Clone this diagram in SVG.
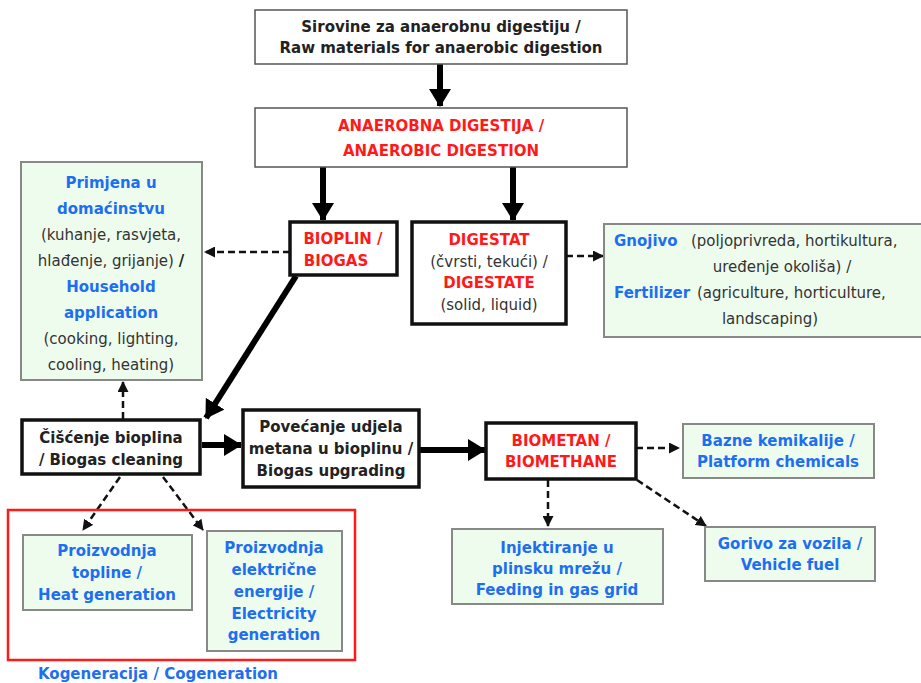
<svg xmlns="http://www.w3.org/2000/svg" width="921" height="683" viewBox="0 0 921 683">
<style>
text{font-family:"DejaVu Sans",Verdana,sans-serif;font-size:15px;text-anchor:middle}
.red{fill:#ff1a1a;font-weight:bold}
.blue{fill:#1e6ff0;font-weight:bold}
.blk{fill:#222;font-weight:bold}
.gr{fill:#333}
.thin{fill:#fff;stroke:#555;stroke-width:1.5}
.thick{fill:#fff;stroke:#111;stroke-width:3.5}
.green{fill:#eefcee;stroke:#888;stroke-width:2}
.big{stroke:#000;stroke-width:6;fill:none}
.dash{stroke:#111;stroke-width:2.5;fill:none;stroke-dasharray:7,4}
</style>
<defs>
<marker id="ah" markerUnits="userSpaceOnUse" markerWidth="18" markerHeight="22" refX="17" refY="11" orient="auto"><path d="M0,0 L18,11 L0,22 Z" fill="#000"/></marker>
<marker id="as" markerUnits="userSpaceOnUse" markerWidth="11" markerHeight="11" refX="10" refY="5.5" orient="auto"><path d="M0,0 L11,5.5 L0,11 Z" fill="#111"/></marker>
</defs>

<g id="connectors">
<line class="big" x1="440" y1="64" x2="440" y2="106" marker-end="url(#ah)"/>
<line class="big" x1="323" y1="167" x2="323" y2="220" marker-end="url(#ah)"/>
<line class="big" x1="513" y1="167" x2="513" y2="220" marker-end="url(#ah)"/>
<line class="dash" x1="290" y1="252" x2="205" y2="252" marker-end="url(#as)"/>
<line class="dash" x1="566" y1="256" x2="603" y2="256" marker-end="url(#as)"/>
<line class="big" x1="296" y1="276" x2="206" y2="418" marker-end="url(#ah)"/>
<line class="dash" x1="123" y1="419" x2="123" y2="382" marker-end="url(#as)"/>
<line class="big" x1="202" y1="445" x2="241" y2="445" marker-end="url(#ah)"/>
<line class="big" x1="420" y1="450" x2="485" y2="450" marker-end="url(#ah)"/>
<line class="dash" x1="636" y1="448" x2="679" y2="448" marker-end="url(#as)"/>
<line class="dash" x1="548" y1="480" x2="548" y2="526" marker-end="url(#as)"/>
<line class="dash" x1="637" y1="480" x2="706" y2="526" marker-end="url(#as)"/>
<line class="dash" x1="120" y1="477" x2="83" y2="530" marker-end="url(#as)"/>
<line class="dash" x1="163" y1="477" x2="203" y2="530" marker-end="url(#as)"/>
</g>

<g id="raw">
<rect class="thin" x="255" y="10" width="372" height="54"/>
<text class="blk" x="441" y="32">Sirovine za anaerobnu digestiju /</text>
<text class="blk" x="441" y="53">Raw materials for anaerobic digestion</text>
</g>

<g id="ad">
<rect class="thin" x="255" y="108" width="372" height="59"/>
<text class="red" x="441" y="131">ANAEROBNA DIGESTIJA /</text>
<text class="red" x="441" y="156">ANAEROBIC DIGESTION</text>
</g>

<g id="biogas">
<rect class="thick" x="290" y="222" width="107" height="53"/>
<text class="red" x="343" y="244">BIOPLIN /</text>
<text class="red" x="336" y="266">BIOGAS</text>
</g>

<g id="digestate">
<rect class="thick" x="412" y="222" width="154" height="102"/>
<text class="red" x="489" y="245">DIGESTAT</text>
<text class="gr" x="489" y="267">(čvrsti, tekući) /</text>
<text class="red" x="489" y="288">DIGESTATE</text>
<text class="gr" x="489" y="310">(solid, liquid)</text>
</g>

<g id="fertilizer">
<rect class="green" x="604" y="224" width="322" height="113"/>
<text x="614" y="246" style="text-anchor:start"><tspan class="blue">Gnojivo</tspan><tspan class="gr" x="691">(poljoprivreda, hortikultura,</tspan></text>
<text class="gr" x="782" y="272">uređenje okoliša) /</text>
<text x="614" y="298" style="text-anchor:start"><tspan class="blue">Fertilizer</tspan><tspan class="gr" x="697">(agriculture, horticulture,</tspan></text>
<text class="gr" x="770" y="324">landscaping)</text>
</g>

<g id="household">
<rect class="green" x="21" y="162" width="181" height="218"/>
<text class="blue" x="111" y="188">Primjena u</text>
<text class="blue" x="111" y="214">domaćinstvu</text>
<text class="gr" x="111" y="240">(kuhanje, rasvjeta,</text>
<text class="gr" x="111" y="266">hlađenje, grijanje) <tspan class="blk">/</tspan></text>
<text class="blue" x="111" y="292">Household</text>
<text class="blue" x="111" y="318">application</text>
<text class="gr" x="111" y="344">(cooking, lighting,</text>
<text class="gr" x="111" y="370">cooling, heating)</text>
</g>

<g id="cleaning">
<rect class="thick" x="22" y="420" width="178" height="54"/>
<text class="blk" x="111" y="443">Čišćenje bioplina</text>
<text class="blk" x="111" y="465">/ Biogas cleaning</text>
</g>

<g id="upgrading">
<rect class="thick" x="243" y="410" width="176" height="77"/>
<text class="blk" x="331" y="432">Povećanje udjela</text>
<text class="blk" x="331" y="454">metana u bioplinu /</text>
<text class="blk" x="331" y="476">Biogas upgrading</text>
</g>

<g id="biomethane">
<rect class="thick" x="486" y="423" width="150" height="56"/>
<text class="red" x="561" y="446">BIOMETAN /</text>
<text class="red" x="561" y="467">BIOMETHANE</text>
</g>

<g id="chemicals">
<rect class="green" x="683" y="424" width="191" height="54"/>
<text class="blue" x="778" y="446">Bazne kemikalije /</text>
<text class="blue" x="778" y="467">Platform chemicals</text>
</g>

<g id="grid">
<rect class="green" x="452" y="529" width="211" height="75"/>
<text class="blue" x="557" y="553">Injektiranje u</text>
<text class="blue" x="557" y="574">plinsku mrežu /</text>
<text class="blue" x="557" y="595">Feeding in gas grid</text>
</g>

<g id="fuel">
<rect class="green" x="705" y="527" width="170" height="54"/>
<text class="blue" x="790" y="549">Gorivo za vozila /</text>
<text class="blue" x="790" y="570">Vehicle fuel</text>
</g>

<g id="cogeneration">
<rect x="8" y="510" width="347" height="150" fill="none" stroke="#ff1a1a" stroke-width="2.5"/>
<text class="blue" x="158" y="679">Kogeneracija / Cogeneration</text>
</g>

<g id="heat">
<rect class="green" x="23" y="535" width="169" height="75"/>
<text class="blue" x="107" y="556">Proizvodnja</text>
<text class="blue" x="107" y="578">topline /</text>
<text class="blue" x="107" y="600">Heat generation</text>
</g>

<g id="electricity">
<rect class="green" x="207" y="531" width="135" height="120"/>
<text class="blue" x="274" y="553">Proizvodnja</text>
<text class="blue" x="274" y="575">električne</text>
<text class="blue" x="274" y="597">energije /</text>
<text class="blue" x="274" y="619">Electricity</text>
<text class="blue" x="274" y="640">generation</text>
</g>
</svg>
